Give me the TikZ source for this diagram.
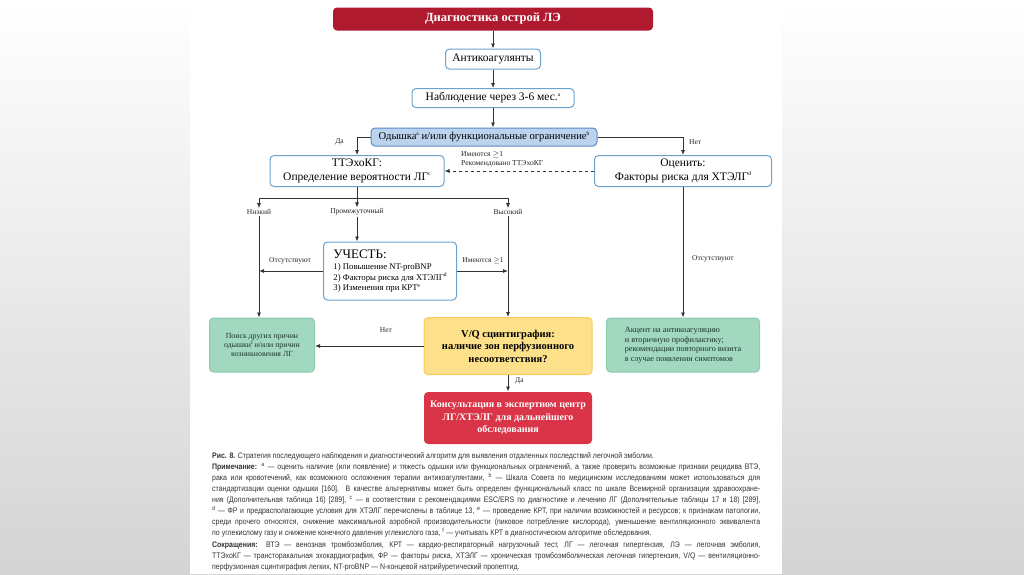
\documentclass[tikz,border=0pt]{standalone}
\usepackage{fontspec}
\setmainfont{Liberation Serif}
\newfontfamily\capfont[FakeStretch=0.87]{Liberation Sans}
\usetikzlibrary{arrows.meta}
\definecolor{titlered}{HTML}{B01A2E}
\definecolor{consred}{HTML}{D93447}
\definecolor{boxblue}{HTML}{6BA3CF}
\definecolor{odyfill}{HTML}{BCD3EE}
\definecolor{odydraw}{HTML}{5B8DC9}
\definecolor{greenfill}{HTML}{A2D8C0}
\definecolor{greendraw}{HTML}{8CC9AE}
\definecolor{yellowfill}{HTML}{FDE18A}
\definecolor{yellowdraw}{HTML}{F4CD5C}
\definecolor{linec}{HTML}{333333}
\definecolor{greentext}{HTML}{1A332D}
\definecolor{bgbottom}{HTML}{D4D4D4}
\newcommand{\sps}[1]{\raisebox{0.85ex}{\fontsize{5.5}{5.5}\selectfont #1}}
\tikzset{
  basebox/.style={rounded corners=4pt, inner sep=0pt, align=center, line width=1pt},
  whitebox/.style={basebox, draw=boxblue, fill=white, font=\fontsize{11.5}{13.5}\selectfont},
  greenbox/.style={basebox, draw=greendraw, fill=greenfill, text=greentext, font=\fontsize{7.8}{9.3}\selectfont},
  arr/.style={draw=linec, line width=0.8pt, -{Latex[length=5pt,width=4pt]}},
  ln/.style={draw=linec, line width=0.8pt},
  elab/.style={font=\fontsize{7.5}{9}\selectfont, inner sep=1pt, text=black!85},
  capline/.style={anchor=west, inner sep=0pt, font=\capfont\fontsize{8}{9}\selectfont, text=black!80}
}
\newcommand{\capjust}[1]{\makebox[548pt][s]{#1}}
\begin{document}
\begin{tikzpicture}[x=1pt,y=-1pt]
\path[use as bounding box] (0,0) rectangle (1024,574);
\shade[top color=white, bottom color=bgbottom] (0,0) rectangle (1024,574);
\fill[white] (190,0) rectangle (782,574);

% nodes
\node[basebox, fill=titlered, text=white, font=\bfseries\fontsize{12.5}{14}\selectfont, minimum width=320pt, minimum height=23pt] (title) at (493,19) {Диагностика острой ЛЭ};
\node[whitebox, minimum width=95pt, minimum height=20pt] (anti) at (493,59) {Антикоагулянты};
\node[whitebox, minimum width=162pt, minimum height=19pt] (nabl) at (493,98) {Наблюдение через 3-6 мес.\sps{a}};
\node[basebox, draw=odydraw, fill=odyfill, font=\fontsize{10.6}{12}\selectfont, minimum width=226pt, minimum height=18pt] (odysh) at (484,137) {Одышка\sps{a} и/или функциональные ограничение\sps{b}};
\node[whitebox, minimum width=174pt, minimum height=31pt] (tte) at (357,171) {ТТЭхоКГ:\\Определение вероятности ЛГ\sps{c}};
\node[whitebox, minimum width=177pt, minimum height=31pt] (ocen) at (683,171) {Оценить:\\Факторы риска для ХТЭЛГ\sps{d}};

\node[elab] (low) at (259,212) {Низкий};
\node[elab] (mid) at (357,212) {Промежуточный};
\node[elab] (high) at (508,212) {Высокий};

\node[whitebox, align=left, minimum width=133pt, minimum height=58pt, font=\fontsize{8.7}{10.5}\selectfont] (uch) at (390,271)
  {{\fontsize{13}{14}\selectfont УЧЕСТЬ:}\\[1pt]1) Повышение NT-proBNP\\2) Факторы риска для ХТЭЛГ\sps{d}\\3) Изменения при КРТ\sps{e}};

\node[greenbox, minimum width=105pt, minimum height=54pt] (poisk) at (262,345) {Поиск других причин\\одышки\sps{f} и/или причин\\возникновения ЛГ};
\node[basebox, draw=yellowdraw, fill=yellowfill, font=\bfseries\fontsize{10.5}{12.5}\selectfont, minimum width=168pt, minimum height=57pt] (vq) at (508,346) {V/Q сцинтиграфия:\\наличие зон перфузионного\\несоответствия?};
\node[greenbox, align=left, font=\fontsize{8.2}{9.6}\selectfont, minimum width=153pt, minimum height=54pt] (akc) at (683,345) {Акцент на антикоагуляцию\\и вторичную профилактику;\\рекомендации повторного визита\\в случае появлении симптомов};
\node[basebox, fill=consred, text=white, font=\bfseries\fontsize{10}{12.5}\selectfont, minimum width=168pt, minimum height=52pt] (cons) at (508,418) {Консультация в экспертном центр\\ЛГ/ХТЭЛГ для дальнейшего\\обследования};

% connectors
\draw[arr] (title) -- (anti);
\draw[arr] (anti) -- (nabl);
\draw[arr] (nabl.south) -- (nabl.south |- odysh.north);
\draw[arr] (odysh.west) -| (tte.north);
\draw[arr] (odysh.east) -| (ocen.north);
\node[elab, anchor=east] (da1) at (345,142) {Да};
\node[elab, anchor=west] (net1) at (688,142) {Нет};

\draw[arr, dashed] (ocen.west) -- (tte.east);
\node[elab, anchor=west, align=left, font=\fontsize{7.6}{9}\selectfont] (dashlab) at (460,159) {Имеются $\geq$1\\Рекомендовано ТТЭхоКГ};

\coordinate (bj) at (357,198);
\coordinate (bl) at (259,198);
\coordinate (br) at (508,198);
\draw[ln] (tte.south) -- (bj);
\draw[ln] (bl) -- (br);
\draw[arr] (bl) -- (low.north);
\draw[arr] (bj) -- (mid.north);
\draw[arr] (br) -- (high.north);

\draw[arr] (low.south) -- (low.south |- poisk.north);
\draw[arr] (mid.south) -- (mid.south |- uch.north);
\draw[arr] (high.south) -- (high.south |- vq.north);

\draw[arr] (uch.west) -- (uch.west -| low.south);
\node[elab] (ots1) at (290,261) {Отсутствуют};
\draw[arr] (uch.east) -- (uch.east -| high.south);
\node[elab] (im2) at (483,261) {Имеются $\geq$1};

\draw[arr] (vq.west) -- (vq.west -| poisk.east);
\node[elab] (net2) at (386,330) {Нет};

\draw[arr] (ocen.south) -- (akc.north);
\node[elab, anchor=west] (ots2) at (691,259) {Отсутствуют};

\draw[arr] (vq) -- (cons);
\node[elab, anchor=west] (da2) at (514,381) {Да};

% caption
\node[capline] (c1) at (212,456) {\textbf{Рис. 8.} Стратегия последующего наблюдения и диагностический алгоритм для выявления отдаленных последствий легочной эмболии.};
\node[capline] (c2) at (212,467) {\capjust{\textbf{Примечание:} \textsuperscript{a} — оценить наличие (или появление) и тяжесть одышки или функциональных ограничений, а также проверить возможные признаки рецидива ВТЭ,}};
\node[capline] (c3) at (212,478) {\capjust{рака или кровотечений, как возможного осложнения терапии антикоагулянтами, \textsuperscript{b} — Шкала Совета по медицинским исследованиям может использоваться для}};
\node[capline] (c4) at (212,489) {\capjust{стандартизации оценки одышки [160]. В качестве альтернативы может быть определен функциональный класс по шкале Всемирной организации здравоохране-}};
\node[capline] (c5) at (212,500) {\capjust{ния (Дополнительная таблица 16) [289], \textsuperscript{c} — в соответствии с рекомендациями ESC/ERS по диагностике и лечению ЛГ (Дополнительные таблицы 17 и 18) [289],}};
\node[capline] (c6) at (212,511) {\capjust{\textsuperscript{d} — ФР и предрасполагающие условия для ХТЭЛГ перечислены в таблице 13, \textsuperscript{e} — проведение КРТ, при наличии возможностей и ресурсов; к признакам патологии,}};
\node[capline] (c7) at (212,522) {\capjust{среди прочего относятся, снижение максимальной аэробной производительности (пиковое потребление кислорода), уменьшение вентиляционного эквивалента}};
\node[capline] (c8) at (212,533) {по углекислому газу и снижение конечного давления углекислого газа, \textsuperscript{f} — учитывать КРТ в диагностическом алгоритме обследования.};
\node[capline] (c9) at (212,545) {\capjust{\textbf{Сокращения:} ВТЭ — венозная тромбоэмболия, КРТ — кардио-респираторный нагрузочный тест, ЛГ — легочная гипертензия, ЛЭ — легочная эмболия,}};
\node[capline] (c10) at (212,556) {\capjust{ТТЭхоКГ — трансторакальная эхокардиография, ФР — факторы риска, ХТЭЛГ — хроническая тромбоэмболическая легочная гипертензия, V/Q — вентиляционно-}};
\node[capline] (c11) at (212,567) {перфузионная сцинтиграфия легких, NT-proBNP — N-концевой натрийуретический пропептид.};
\end{tikzpicture}
\end{document}
